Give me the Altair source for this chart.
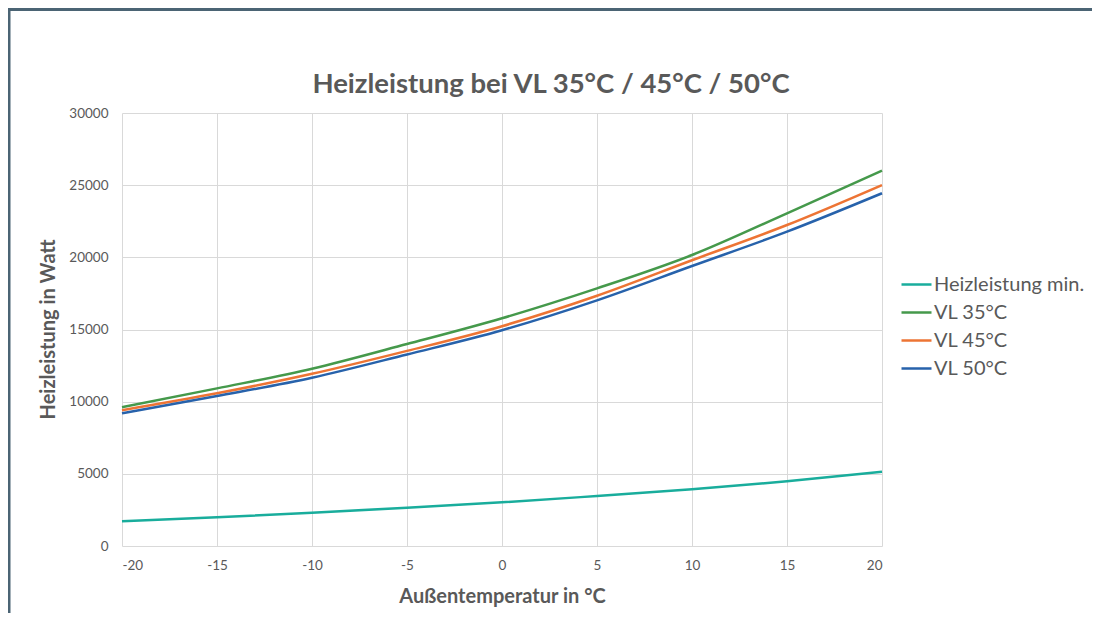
import altair as alt
import pandas as pd

temps = [-20, -15, -10, -5, 0, 5, 10, 15, 20]
heiz_min = [1710, 1990, 2310, 2655, 3025, 3465, 3925, 4480, 5150]
vl35 = [9620, 10920, 12280, 13990, 15780, 17850, 20160, 23050, 26000]
vl45 = [9410, 10580, 11930, 13520, 15230, 17340, 19800, 22240, 25010]
vl50 = [9200, 10390, 11660, 13270, 14950, 17020, 19400, 21780, 24440]
y_ticks = [0, 5000, 10000, 15000, 20000, 25000, 30000]

series = ["Heizleistung min.", "VL 35°C", "VL 45°C", "VL 50°C"]
colors = ["#19ad9c", "#45994b", "#ed7434", "#2762ab"]

rows = []
for name, vals in zip(series, [heiz_min, vl35, vl45, vl50]):
    for t, v in zip(temps, vals):
        rows.append({"t": t, "w": v, "s": name})
df = pd.DataFrame(rows)

FONT = "Lato"
GREY = "#595959"

lines = alt.Chart(df).mark_line(strokeWidth=2.5, interpolate="monotone").encode(
    x=alt.X(
        "t:Q",
        scale=alt.Scale(domain=[-20, 20], nice=False),
        axis=alt.Axis(
            values=temps, title="Außentemperatur in °C", labelPadding=12,
            labelExpr="datum.value + ''",
            titleY=56, titleBaseline="alphabetic",
        ),
    ),
    y=alt.Y(
        "w:Q",
        scale=alt.Scale(domain=[0, 30000], nice=False),
        axis=alt.Axis(
            values=y_ticks, labelExpr="datum.value + ''",
            title="Heizleistung in Watt", labelPadding=14,
            titleX=-74, titleY=216, titleAlign="center", titleBaseline="middle", titleAngle=-90,
        ),
    ),
    color=alt.Color(
        "s:N",
        scale=alt.Scale(domain=series, range=colors),
        legend=alt.Legend(
            title=None, orient="none", legendX=778, legendY=155,
            symbolType="stroke", symbolSize=900, symbolStrokeWidth=2.5,
            labelFontSize=20, labelColor=GREY, labelFont=FONT, labelOffset=1,
            rowPadding=1,
        ),
    ),
)

frame_df = pd.DataFrame({"a": [0]})
top_line = alt.Chart(frame_df).mark_rule(color="#4b6474", strokeWidth=3).encode(
    x=alt.value(-120), x2=alt.value(1000), y=alt.value(-103.5)
)
left_line = alt.Chart(frame_df).mark_rule(color="#4b6474", strokeWidth=3).encode(
    x=alt.value(-113), y=alt.value(-110), y2=alt.value(520)
)

chart = alt.layer(lines, top_line, left_line).properties(
    width=760,
    height=433,
    padding={"left": 114, "top": 105, "right": 210, "bottom": 67},
    autosize=alt.AutoSizeParams(type="none"),
    title=alt.TitleParams(
        "Heizleistung bei VL 35°C / 45°C / 50°C",
        fontSize=27.5, font=FONT, fontWeight="bold", color=GREY,
        anchor="middle", dx=49, dy=113, offset=16,
    ),
).configure_axis(
    gridColor="#d9d9d9", domain=False, ticks=False,
    labelFont=FONT, labelFontSize=13.5, labelColor=GREY,
    titleFont=FONT, titleFontSize=20, titleColor=GREY, titleFontWeight="bold",
).configure_view(stroke=None)

chart.save("out.html", embed_options={"renderer": "svg", "actions": False})
